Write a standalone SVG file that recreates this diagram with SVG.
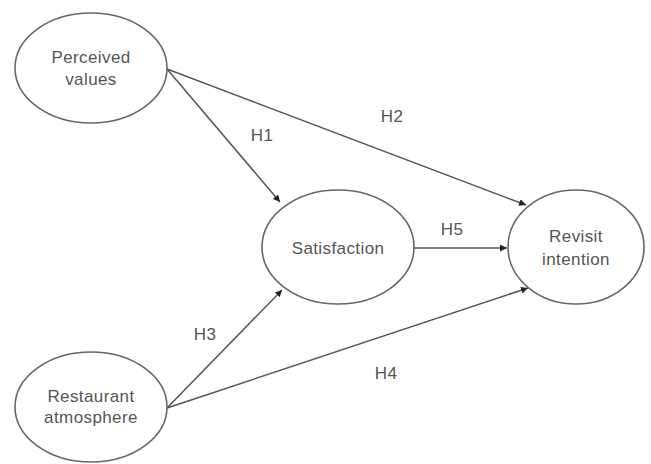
<svg xmlns="http://www.w3.org/2000/svg" width="651" height="464" viewBox="0 0 651 464">
<defs>
<marker id="ah" viewBox="0 0 10 10" refX="10" refY="5" markerWidth="7" markerHeight="7" markerUnits="userSpaceOnUse" orient="auto">
<path d="M0,0 L10,5 L0,10 z" fill="#222"/>
</marker>
<style>
.n ellipse{fill:#fff;stroke:#666;stroke-width:1.6}
text{font-family:"Liberation Sans",Arial,sans-serif;font-size:17px;letter-spacing:0.4px;fill:#555;text-anchor:middle}
.c line{stroke:#555;stroke-width:1.5;marker-end:url(#ah)}
</style>
</defs>
<rect width="651" height="464" fill="#fff"/>
<g class="c" id="connectors">
<line x1="167" y1="69" x2="280" y2="202"/>
<line x1="167" y1="69" x2="526" y2="205"/>
<line x1="414" y1="248" x2="507" y2="248"/>
<line x1="167" y1="408" x2="282" y2="290"/>
<line x1="167" y1="408" x2="528" y2="288"/>
<text x="262" y="141">H1</text>
<text x="392" y="122">H2</text>
<text x="452" y="235">H5</text>
<text x="205" y="340">H3</text>
<text x="386" y="379">H4</text>
</g>
<g class="n" id="perceived">
<ellipse cx="91" cy="68" rx="76" ry="55"/>
<text x="91" y="63">Perceived</text>
<text x="91" y="85">values</text>
</g>
<g class="n" id="restaurant">
<ellipse cx="91" cy="407" rx="76" ry="55"/>
<text x="91" y="402">Restaurant</text>
<text x="91" y="423">atmosphere</text>
</g>
<g class="n" id="satisfaction">
<ellipse cx="338" cy="247" rx="76" ry="57"/>
<text x="338" y="254">Satisfaction</text>
</g>
<g class="n" id="revisit">
<ellipse cx="576" cy="247" rx="68" ry="57"/>
<text x="576" y="242">Revisit</text>
<text x="576" y="265">intention</text>
</g>
</svg>
